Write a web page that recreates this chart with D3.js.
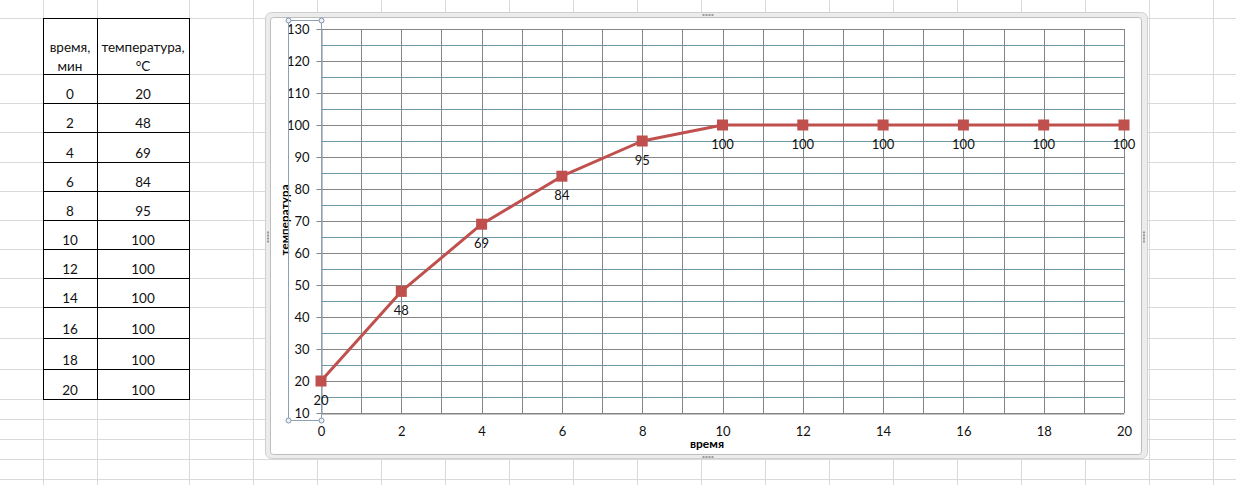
<!DOCTYPE html>
<html><head><meta charset="utf-8">
<script src="https://cdn.jsdelivr.net/npm/d3@7"></script>
<style>
html,body{margin:0;padding:0;background:#fff;}
svg{display:block;font-family:Lato,"Open Sans",sans-serif;}
</style></head>
<body><svg id="c" width="1236" height="485"></svg>
<script>
// ---- data ----
const times = [0, 2, 4, 6, 8, 10, 12, 14, 16, 18, 20];
const temps = [20, 48, 69, 84, 95, 100, 100, 100, 100, 100, 100];
const yTicks = [10, 20, 30, 40, 50, 60, 70, 80, 90, 100, 110, 120, 130];
const xTicks = [0, 2, 4, 6, 8, 10, 12, 14, 16, 18, 20];
const headerTime = ["время,", "мин"];
const headerTemp = ["температура,", "°C"];
const xTitle = "время";
const yTitle = "температура";

const svg = d3.select("#c");

// ---- spreadsheet background grid ----
const sheetCols = [43, 97, 189, 253, 317, 381, 445, 509, 573, 637, 701, 765, 829, 893, 957, 1021, 1085, 1149, 1213];
const sheetRows = [18, 74, 103, 132, 162, 191, 220, 249, 278, 307, 338, 369, 399, 419, 439, 459, 479];
const bg = svg.append("g");
bg.selectAll("line.c").data(sheetCols).join("line")
  .attr("x1", d => d + 0.5).attr("x2", d => d + 0.5).attr("y1", 0).attr("y2", 485)
  .attr("stroke", "#d9d9d9");
bg.selectAll("line.r").data(sheetRows).join("line")
  .attr("y1", d => d + 0.5).attr("y2", d => d + 0.5).attr("x1", 0).attr("x2", 1236)
  .attr("stroke", "#d9d9d9");

// ---- table ----
const tbl = svg.append("g");
const tCols = [43, 97, 189];
const tRows = [18, 74, 103, 132, 162, 191, 220, 249, 278, 307, 338, 369, 399];
tbl.append("rect").attr("x", 43).attr("y", 18).attr("width", 146).attr("height", 381).attr("fill", "#fff");
tbl.selectAll("line.tc").data(tCols).join("line")
  .attr("x1", d => d + 0.5).attr("x2", d => d + 0.5).attr("y1", 18).attr("y2", 400)
  .attr("stroke", "#000");
tbl.selectAll("line.tr").data(tRows).join("line")
  .attr("y1", d => d + 0.5).attr("y2", d => d + 0.5).attr("x1", 43).attr("x2", 190)
  .attr("stroke", "#000");
const cellFont = 13.5;
[headerTime, headerTemp].forEach((h, i) => {
  const cx = i === 0 ? 70 : 143;
  h.forEach((t, j) => {
    tbl.append("text").attr("x", cx).attr("y", 52 + j * 19).attr("text-anchor", "middle")
      .attr("font-size", cellFont).attr("fill", "#111").text(t);
  });
});
times.forEach((t, i) => {
  const yb = tRows[i + 2] - 4;
  tbl.append("text").attr("x", 70).attr("y", yb).attr("text-anchor", "middle")
    .attr("font-size", cellFont).attr("fill", "#111").text(t);
  tbl.append("text").attr("x", 143).attr("y", yb).attr("text-anchor", "middle")
    .attr("font-size", cellFont).attr("fill", "#111").text(temps[i]);
});

// ---- chart frame ----
const fr = svg.append("g");
fr.append("rect").attr("x", 265.5).attr("y", 12.5).attr("width", 882).attr("height", 446)
  .attr("rx", 6).attr("fill", "#ececec").attr("stroke", "#cfcfcf");
fr.append("rect").attr("x", 270.5).attr("y", 17.5).attr("width", 871).attr("height", 437)
  .attr("rx", 3).attr("fill", "#fff").attr("stroke", "#bdbdbd");
// grips
const grips = [[708, 15, "h"], [708, 457, "h"], [268, 237, "v"], [1144, 237, "v"]];
grips.forEach(([gx, gy, o]) => {
  for (let k = -3; k <= 3; k += 2) {
    fr.append("rect")
      .attr("x", o === "h" ? gx + k * 1.5 - 1 : gx - 1)
      .attr("y", o === "h" ? gy - 1 : gy + k * 1.5 - 1)
      .attr("width", 2).attr("height", 2).attr("fill", "#9a9a9a");
  }
});

// ---- scales ----
const x = d3.scaleLinear().domain([0, 20]).range([321, 1124]);
const y = d3.scaleLinear().domain([10, 130]).range([413, 29]);

// gridlines
const grid = svg.append("g");
const minorY = d3.range(15, 130, 10);
grid.selectAll("line.my").data(minorY).join("line")
  .attr("x1", x(0)).attr("x2", x(20))
  .attr("y1", d => Math.round(y(d)) + 0.5).attr("y2", d => Math.round(y(d)) + 0.5)
  .attr("stroke", "#6f9ba8");
const vx = d3.range(0, 21, 1);
grid.selectAll("line.vx").data(vx).join("line")
  .attr("x1", d => Math.round(x(d)) + 0.5).attr("x2", d => Math.round(x(d)) + 0.5)
  .attr("y1", y(130)).attr("y2", y(10))
  .attr("stroke", "#858585");
grid.selectAll("line.hy").data(yTicks).join("line")
  .attr("x1", x(0)).attr("x2", x(20))
  .attr("y1", d => Math.round(y(d)) + 0.5).attr("y2", d => Math.round(y(d)) + 0.5)
  .attr("stroke", "#858585");

// axes
const yAxis = svg.append("g").attr("transform", `translate(${Math.round(x(0)) + 0.5},0)`)
  .call(d3.axisLeft(y).tickValues(yTicks).tickSize(5).tickSizeOuter(0).tickPadding(7));
yAxis.select(".domain").attr("stroke", "#858585");
yAxis.selectAll(".tick line").attr("stroke", "#858585");
yAxis.selectAll("text").attr("font-size", 13).attr("fill", "#111").attr("font-family", "Lato,'Open Sans',sans-serif");

const xAxis = svg.append("g").attr("transform", `translate(0,${Math.round(y(10)) + 0.5})`)
  .call(d3.axisBottom(x).tickValues(xTicks).tickSize(0).tickSizeOuter(0).tickPadding(13));
xAxis.select(".domain").attr("stroke", "#858585");
xAxis.selectAll("text").attr("font-size", 13).attr("fill", "#111").attr("font-family", "Lato,'Open Sans',sans-serif");

// axis titles
svg.append("text").attr("x", 707).attr("y", 448).attr("text-anchor", "middle")
  .attr("font-size", 12).attr("font-weight", "bold").attr("fill", "#000").text(xTitle);
svg.append("text").attr("transform", "translate(289,220) rotate(-90)").attr("text-anchor", "middle")
  .attr("font-size", 11.5).attr("font-weight", "bold").attr("fill", "#000")
  .attr("textLength", 71).attr("lengthAdjust", "spacing").text(yTitle);

// selection box around vertical axis labels
const sel = svg.append("g");
sel.append("rect").attr("x", 288.5).attr("y", 20.5).attr("width", 33).attr("height", 400)
  .attr("fill", "none").attr("stroke", "#8ea0b4");
[[288.5, 20.5], [321.5, 20.5], [288.5, 420.5], [321.5, 420.5]].forEach(([hx, hy]) => {
  sel.append("circle").attr("cx", hx).attr("cy", hy).attr("r", 2.5)
    .attr("fill", "#eef2f7").attr("stroke", "#7f93aa");
});

// series
const pts = times.map((t, i) => ({ t, v: temps[i] }));
const line = d3.line().x(d => x(d.t)).y(d => y(d.v));
svg.append("path").datum(pts).attr("d", line).attr("fill", "none")
  .attr("stroke", "#c0504d").attr("stroke-width", 3).attr("stroke-linejoin", "round");
svg.selectAll("rect.m").data(pts).join("rect")
  .attr("x", d => x(d.t) - 5.5).attr("y", d => y(d.v) - 5.5)
  .attr("width", 11).attr("height", 11).attr("fill", "#c0504d");
svg.selectAll("text.lbl").data(pts).join("text")
  .attr("x", d => x(d.t)).attr("y", d => y(d.v) + 24).attr("text-anchor", "middle")
  .attr("font-size", 13).attr("fill", "#111").text(d => d.v);
</script></body></html>
